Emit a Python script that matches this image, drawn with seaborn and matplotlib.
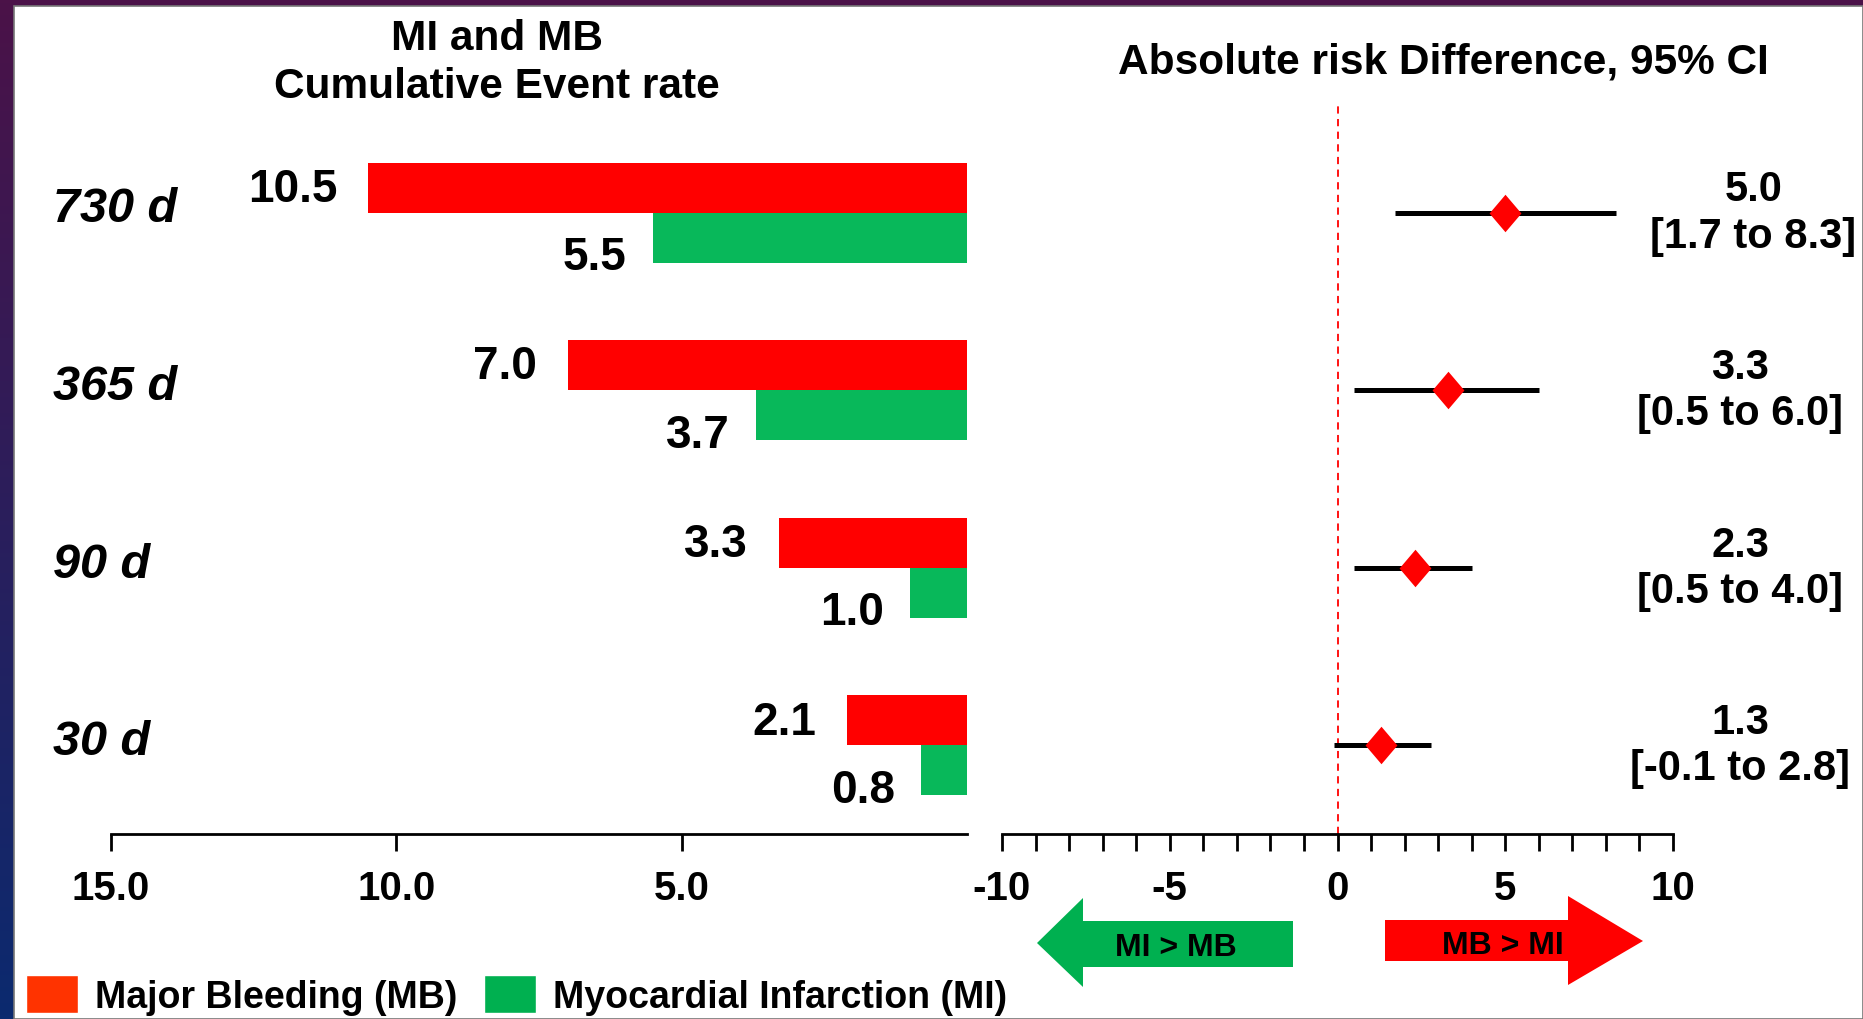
import numpy as np
import pandas as pd
import seaborn as sns
import matplotlib.pyplot as plt
from matplotlib import transforms as mtrans
from matplotlib.colors import LinearSegmentedColormap
from matplotlib.patches import Patch, Polygon, Rectangle

# data
periods = ['730 d', '365 d', '90 d', '30 d']
mb_rate = [10.5, 7.0, 3.3, 2.1]   # major bleeding, cumulative %
mi_rate = [5.5, 3.7, 1.0, 0.8]    # myocardial infarction, cumulative %
risk_diff = [5.0, 3.3, 2.3, 1.3]
ci_low = [1.7, 0.5, 0.5, -0.1]
ci_high = [8.3, 6.0, 4.0, 2.8]

sns.set_style('ticks')
plt.rcParams['font.family'] = ['Liberation Sans', 'DejaVu Sans']
plt.rcParams['font.weight'] = 'bold'
plt.rcParams['text.color'] = 'black'
plt.rcParams['axes.labelcolor'] = 'black'
plt.rcParams['xtick.color'] = 'black'
plt.rcParams['legend.labelcolor'] = 'black'

W, H = 1863, 1020
fig = plt.figure(figsize=(W / 100, H / 100), dpi=100)
px = mtrans.Affine2D().scale(1 / W, -1 / H).translate(0, 1) + fig.transFigure

# slide frame: dark gradient edge + white panel
bg = fig.add_axes([0, 0, 1, 1], zorder=-10)
cmap = LinearSegmentedColormap.from_list('edge', ['#4b1248', '#0b2a6f'])
bg.imshow(np.linspace(0, 1, 256).reshape(-1, 1), aspect='auto', cmap=cmap, extent=[0, 1, 0, 1])
bg.axis('off')
fig.patches.append(Rectangle((14, 7), W - 14, H - 7, transform=px, facecolor='white',
                             edgecolor='#777777', lw=1.2, zorder=-5))

RED = '#ff0000'
GREEN = '#08b85a'
bar_w = 0.563

# ---- left: cumulative event rates ----
axL = fig.add_axes([111 / W, (H - 835) / H, (967 - 111) / W, 728 / H])
axL.patch.set_visible(False)
df = pd.DataFrame({'period': periods * 2,
                   'event': ['MB'] * len(periods) + ['MI'] * len(periods),
                   'rate': mb_rate + mi_rate})
sns.barplot(data=df, x='rate', y='period', hue='event', hue_order=['MB', 'MI'],
            palette={'MB': RED, 'MI': GREEN}, orient='h', width=bar_w, saturation=1,
            errorbar=None, legend=False, linewidth=0, ax=axL)
axL.set_xlim(15, 0)
axL.set_ylim(3.5, -0.6)
axL.set_xticks([15, 10, 5])
axL.set_xticklabels(['15.0', '10.0', '5.0'])
axL.set_yticks([])
axL.set_xlabel('')
axL.set_ylabel('')
for s in ['top', 'right', 'left']:
    axL.spines[s].set_visible(False)
axL.spines['bottom'].set_linewidth(2)
axL.spines['bottom'].set_color('black')
axL.tick_params(axis='x', bottom=True, direction='out', length=12, width=2, pad=13,
                labelsize=29, colors='black')

half = bar_w / 4
for i, (a, b) in enumerate(zip(mb_rate, mi_rate)):
    axL.annotate(f'{a:.1f}', (a, i - half), xytext=(-22, -1), textcoords='offset points',
                 ha='right', va='center', fontsize=33)
    axL.annotate(f'{b:.1f}', (b, i + half), xytext=(-19, -14), textcoords='offset points',
                 ha='right', va='center', fontsize=33)

lab_tr = mtrans.blended_transform_factory(fig.transFigure, axL.transData)
for i, p in enumerate(periods):
    axL.text(53 / W, i - 0.02, p, transform=lab_tr, ha='left', va='center',
             fontsize=35, style='italic', weight='bold')

# ---- right: absolute risk difference ----
axR = fig.add_axes([1002 / W, (H - 835) / H, 671 / W, 728 / H])
axR.patch.set_visible(False)
ypos = np.arange(len(periods))
axR.axvline(0, color=RED, ls=(0, (4, 3)), lw=1.3, zorder=1)
axR.hlines(ypos, ci_low, ci_high, color='black', lw=3.6, zorder=2)
diamond = [(0, 1), (0.85, 0), (0, -1), (-0.85, 0), (0, 1)]
axR.plot(risk_diff, ypos, ls='none', marker=diamond, ms=27, color=RED, mec='none', zorder=3)
axR.set_xlim(-10, 10)
axR.set_ylim(3.5, -0.6)
axR.set_xticks([-10, -5, 0, 5, 10])
axR.set_xticklabels(['-10', '-5', '0', '5', '10'])
axR.set_xticks(np.arange(-10, 11), minor=True)
axR.set_yticks([])
for s in ['top', 'right', 'left']:
    axR.spines[s].set_visible(False)
axR.spines['bottom'].set_linewidth(2)
axR.spines['bottom'].set_color('black')
axR.tick_params(axis='x', which='both', bottom=True, direction='out', length=12, width=2,
                colors='black')
axR.tick_params(axis='x', which='major', pad=13, labelsize=29)

for i in ypos:
    axR.text(12.0 + (0.4 if i == 0 else 0), i,
             f'{risk_diff[i]:.1f}\n[{ci_low[i]:.1f} to {ci_high[i]:.1f}]',
             ha='center', va='center', fontsize=30, linespacing=1.2, clip_on=False)

# titles
fig.text(497 / W, 1 - 63 / H, 'MI and MB\nCumulative Event rate', ha='center', va='center',
         fontsize=30.5, linespacing=1.25)
fig.text(1443 / W, 1 - 62 / H, 'Absolute risk Difference, 95% CI', ha='center', va='center',
         fontsize=30.5)

# direction arrows
green_arrow = [(1037, 944), (1083, 899), (1083, 922), (1293, 922), (1293, 968), (1083, 968), (1083, 988)]
red_arrow = [(1385, 921), (1568, 921), (1568, 897), (1643, 942), (1568, 986), (1568, 962), (1385, 962)]
fig.patches.append(Polygon(green_arrow, closed=True, transform=px, facecolor='#00b050', edgecolor='none'))
fig.patches.append(Polygon(red_arrow, closed=True, transform=px, facecolor=RED, edgecolor='none'))
fig.text(1176 / W, 1 - 948 / H, 'MI > MB', ha='center', va='center', fontsize=23)
fig.text(1503 / W, 1 - 946 / H, 'MB > MI', ha='center', va='center', fontsize=23)

# legend
handles = [Patch(facecolor='#ff3300', label='Major Bleeding (MB)'),
           Patch(facecolor='#00b050', label='Myocardial Infarction (MI)')]
fig.legend(handles=handles, loc='center left', bbox_to_anchor=(26 / W, 1 - 996 / H), ncol=2,
           frameon=False, fontsize=27, handlelength=1.39, handleheight=1.17,
           handletextpad=0.45, columnspacing=0.7, borderpad=0, borderaxespad=0)

fig.savefig('out.png', dpi=100)
